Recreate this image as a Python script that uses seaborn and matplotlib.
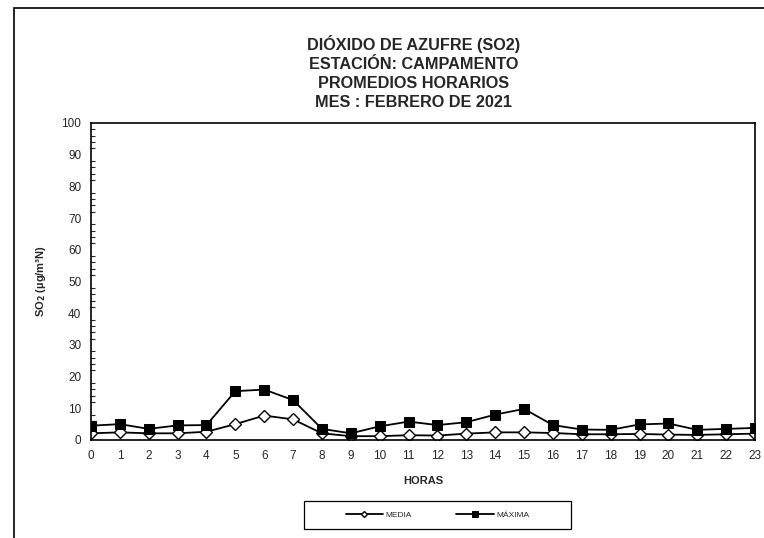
import pandas as pd
import seaborn as sns
import matplotlib.pyplot as plt
from matplotlib.patches import Rectangle
from matplotlib.ticker import MultipleLocator

# Hourly values
horas = list(range(24))
media = [2.1, 2.4, 2.1, 2.1, 2.6, 5.0, 7.7, 6.5, 2.1, 1.2, 1.2, 1.5,
         1.4, 2.0, 2.4, 2.4, 2.2, 1.8, 1.8, 1.9, 1.7, 1.6, 1.8, 2.0]
maxima = [4.5, 5.0, 3.5, 4.6, 4.7, 15.4, 15.9, 12.6, 3.5, 2.1, 4.3, 5.8,
          4.7, 5.6, 8.0, 9.8, 4.7, 3.3, 3.2, 4.9, 5.2, 3.2, 3.5, 3.8]
titulo = ["DIÓXIDO DE AZUFRE (SO2)", "ESTACIÓN: CAMPAMENTO",
          "PROMEDIOS HORARIOS", "MES : FEBRERO DE 2021"]

df = pd.DataFrame({"hora": horas, "MEDIA": media, "MÁXIMA": maxima})

sns.set_style("white")
plt.rcParams["font.family"] = ["Liberation Sans", "DejaVu Sans"]

fig = plt.figure(figsize=(7.64, 5.38), dpi=100)
ax = fig.add_axes([0.1191, 0.1822, 0.8691, 0.5892])

sns.lineplot(data=df, x="hora", y="MEDIA", ax=ax, color="black", lw=1.3,
             marker="D", markersize=6, markerfacecolor="white",
             markeredgecolor="black", markeredgewidth=1.0, label="MEDIA")
sns.lineplot(data=df, x="hora", y="MÁXIMA", ax=ax, color="black", lw=1.3,
             marker="s", markersize=7.5, markerfacecolor="black",
             markeredgecolor="black", label="MÁXIMA")

ax.set_xlim(0, 23)
ax.set_ylim(0, 100)
ax.set_xticks(horas)
ax.yaxis.set_major_locator(MultipleLocator(10))
ax.yaxis.set_minor_locator(MultipleLocator(2))
ax.tick_params(axis="both", which="major", direction="inout", length=7,
               width=1, labelsize=8.5, color="black")
ax.tick_params(axis="y", which="minor", direction="in", length=3, width=0.8,
               left=True)
for s in ax.spines.values():
    s.set_color("black")
    s.set_linewidth(1.2)

ax.set_xlabel("HORAS", fontsize=8, fontweight="bold", labelpad=10)
ax.set_ylabel("SO$_\\mathbf{2}$ (µg/m³N)", fontsize=8, fontweight="bold",
              labelpad=10)

fig.text(0.541, 0.865, "\n".join(titulo), ha="center", va="center",
         fontsize=11.7, fontweight="bold", linespacing=1.33)

leg = ax.legend(loc="center", bbox_to_anchor=(437.5 / 764, 1 - 515 / 538),
                bbox_transform=fig.transFigure, ncol=2, fontsize=6,
                frameon=False, handlelength=4.5, columnspacing=5.3,
                markerscale=0.5, handletextpad=0.3)

# legend box and outer frame of the chart area
fig.patches.append(Rectangle((304 / 764, 1 - 529 / 538), 267 / 764, 28 / 538,
                             transform=fig.transFigure, fill=False,
                             edgecolor="black", linewidth=0.9))
fig.patches.append(Rectangle((14 / 764, -0.1), 1.2, 1 - 8 / 538 + 0.1,
                             transform=fig.transFigure, fill=False,
                             edgecolor="black", linewidth=1.2))

fig.savefig("out.png", dpi=100)
